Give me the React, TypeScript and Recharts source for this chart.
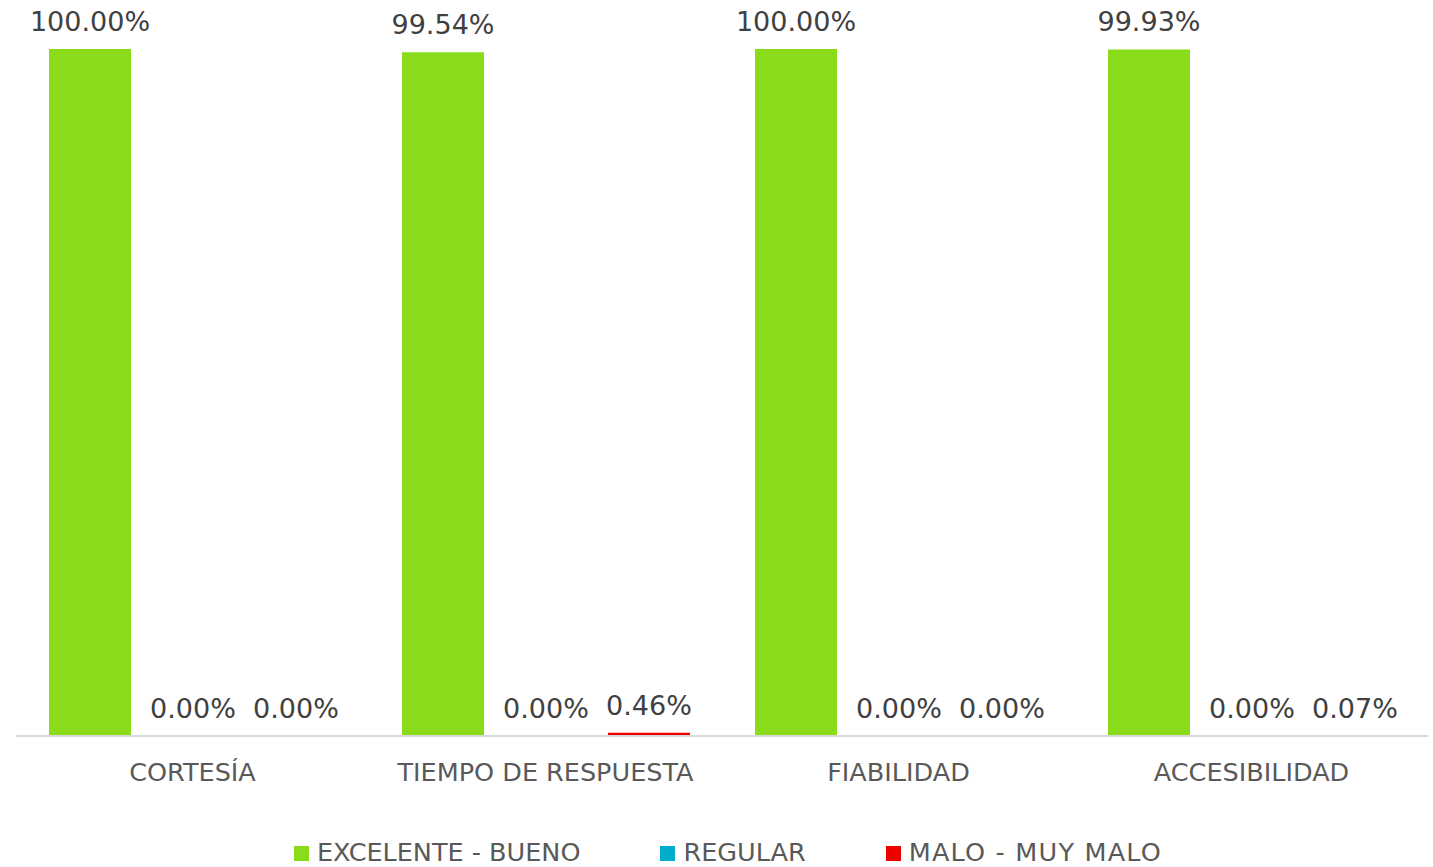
import React from 'react';
import { BarChart, Bar, XAxis, YAxis, Legend, LabelList } from 'recharts';

const categories = ['CORTESÍA', 'TIEMPO DE RESPUESTA', 'FIABILIDAD', 'ACCESIBILIDAD'];
const excelenteBueno = [100.0, 99.54, 100.0, 99.93];
const regular = [0.0, 0.0, 0.0, 0.0];
const maloMuyMalo = [0.0, 0.46, 0.0, 0.07];

const seriesNames = ['EXCELENTE - BUENO', 'REGULAR', 'MALO - MUY MALO'];
const seriesColors = ['#8ADB19', '#00AECB', '#EE0000'];

const data = categories.map((c, i) => ({
  name: c,
  eb: excelenteBueno[i],
  reg: regular[i],
  mal: maloMuyMalo[i],
}));

const FONT = '"DejaVu Sans", sans-serif';
const fmt = (v: number) => `${Number(v).toFixed(2)}%`;

const LegendContent = () => (
  <div style={{ display: 'flex', justifyContent: 'center', gap: 80, fontFamily: FONT, fontSize: 25.5, lineHeight: '28px', height: 28, color: '#595959', paddingLeft: 12 }}>
    {seriesNames.map((n, i) => (
      <div key={n} style={{ display: 'flex', alignItems: 'center' }}>
        <span style={{ display: 'inline-block', width: 15, height: 15, background: seriesColors[i], marginRight: 8, marginTop: 2 }} />
        <span style={{ whiteSpace: 'nowrap', letterSpacing: i === 2 ? 1.2 : 0 }}>{n}</span>
      </div>
    ))}
  </div>
);

export default function App() {
  return (
    <div style={{ position: 'absolute', left: 0, top: 0, width: 1433, height: 867, background: '#fff', overflow: 'hidden' }}>
      <BarChart
        width={1433}
        height={867}
        data={data}
        margin={{ top: 49, right: 5, bottom: 0, left: 16 }}
        barGap={21}
        barSize={82}
      >
        <YAxis hide domain={[0, 100]} />
        <XAxis
          dataKey="name"
          axisLine={{ stroke: '#D9D9D9', strokeWidth: 2 }}
          tickLine={false}
          tick={{ fill: '#595959', fontSize: 25.5, fontFamily: FONT }}
          tickMargin={21}
          height={103}
          interval={0}
        />
        <Legend content={<LegendContent />} verticalAlign="bottom" wrapperStyle={{ bottom: 1 }} />
        <Bar dataKey="eb" name={seriesNames[0]} fill={seriesColors[0]} isAnimationActive={false}>
          <LabelList dataKey="eb" position="top" offset={18} formatter={fmt} fill="#404040" fontSize={27} fontFamily={FONT} />
        </Bar>
        <Bar dataKey="reg" name={seriesNames[1]} fill={seriesColors[1]} minPointSize={0.01} isAnimationActive={false}>
          <LabelList dataKey="reg" position="top" offset={18} formatter={fmt} fill="#404040" fontSize={27} fontFamily={FONT} />
        </Bar>
        <Bar dataKey="mal" name={seriesNames[2]} fill={seriesColors[2]} minPointSize={0.01} isAnimationActive={false}>
          <LabelList dataKey="mal" position="top" offset={18} formatter={fmt} fill="#404040" fontSize={27} fontFamily={FONT} />
        </Bar>
      </BarChart>
    </div>
  );
}
